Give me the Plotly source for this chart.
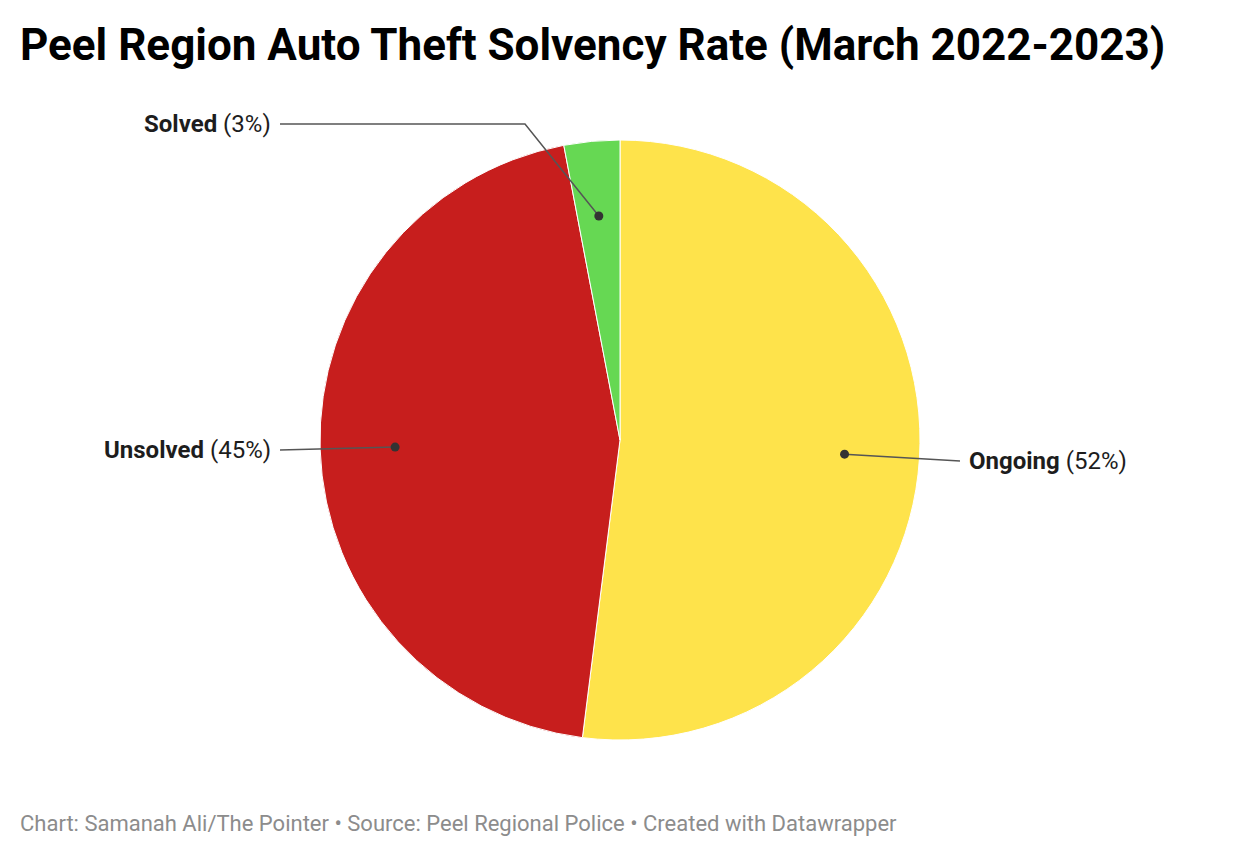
import math
import plotly.graph_objects as go

# ---- data ----
categories = ["Ongoing", "Unsolved", "Solved"]
values = [52, 45, 3]
colors = ["#fee34b", "#c71e1d", "#66d853"]

title_text = "Peel Region Auto Theft Solvency Rate (March 2022-2023)"
footer_text = "Chart: Samanah Ali/The Pointer \u2022 Source: Peel Regional Police \u2022 Created with Datawrapper"

# ---- layout geometry (pixels, as seen in the page) ----
W, H = 1240, 856
OFF = 8  # page body offset
CX, CY, R = 620, 440, 300
DOT_R = 0.75
LABEL_GAP = 7
label_cfg = {
    "Ongoing": {"end": (960, 461), "elbow": None, "side": "left"},
    "Unsolved": {"end": (280, 450), "elbow": None, "side": "right"},
    "Solved": {"end": (280, 124), "elbow": (525, 124), "side": "right"},
}


def px(x):
    return (x - OFF) / W


def py(y):
    return 1 - (y - OFF) / H


fig = go.Figure()
fig.add_trace(go.Pie(
    labels=categories, values=values, sort=False, direction="clockwise", rotation=0,
    marker=dict(colors=colors, line=dict(color="white", width=1)),
    textinfo="none", hoverinfo="label+percent", showlegend=False,
    domain=dict(x=[px(CX - R - 10), px(CX + R + 10)], y=[py(CY + R), py(CY - R)]),
))

shapes = []
annotations = []
total = sum(values)
cum = 0
for cat, v in zip(categories, values):
    mid = (cum + v / 2) / total * 2 * math.pi
    cum += v
    dx = CX + DOT_R * R * math.sin(mid)
    dy = CY - DOT_R * R * math.cos(mid)
    cfg = label_cfg[cat]
    pts = [(dx, dy)]
    if cfg["elbow"]:
        pts.append(cfg["elbow"])
    pts.append(cfg["end"])
    path = "M " + " L ".join(f"{px(a):.5f},{py(b):.5f}" for a, b in pts)
    shapes.append(dict(type="path", path=path, xref="paper", yref="paper",
                       line=dict(color="#555555", width=1.5)))
    rdot = 4.5
    shapes.append(dict(type="circle", xref="paper", yref="paper",
                       x0=px(dx - rdot), x1=px(dx + rdot), y0=py(dy + rdot), y1=py(dy - rdot),
                       fillcolor="#333333", line=dict(width=0)))
    pct = round(v / total * 100)
    ex, ey = cfg["end"]
    if cfg["side"] == "right":
        xa, xx = "right", ex - LABEL_GAP
    else:
        xa, xx = "left", ex + LABEL_GAP
    annotations.append(dict(x=px(xx), y=py(ey), xref="paper", yref="paper",
                            xanchor=xa, yanchor="middle", showarrow=False,
                            text=f"<b>{cat}</b> ({pct}%)",
                            font=dict(family="Roboto", size=24, color="#1d1d1d")))

annotations.append(dict(x=px(18), y=py(45), xref="paper", yref="paper",
                        xanchor="left", yanchor="middle", showarrow=False,
                        text=f"<b>{title_text}</b>",
                        font=dict(family="Roboto", size=44, color="#000000")))
annotations.append(dict(x=px(18), y=py(823), xref="paper", yref="paper",
                        xanchor="left", yanchor="middle", showarrow=False,
                        text=footer_text,
                        font=dict(family="Roboto", size=22, color="#8c8c8c")))

fig.update_layout(
    width=W, height=H, margin=dict(l=0, r=0, t=0, b=0),
    paper_bgcolor="white", plot_bgcolor="white",
    shapes=shapes, annotations=annotations,
)
fig.write_html("out.html")
